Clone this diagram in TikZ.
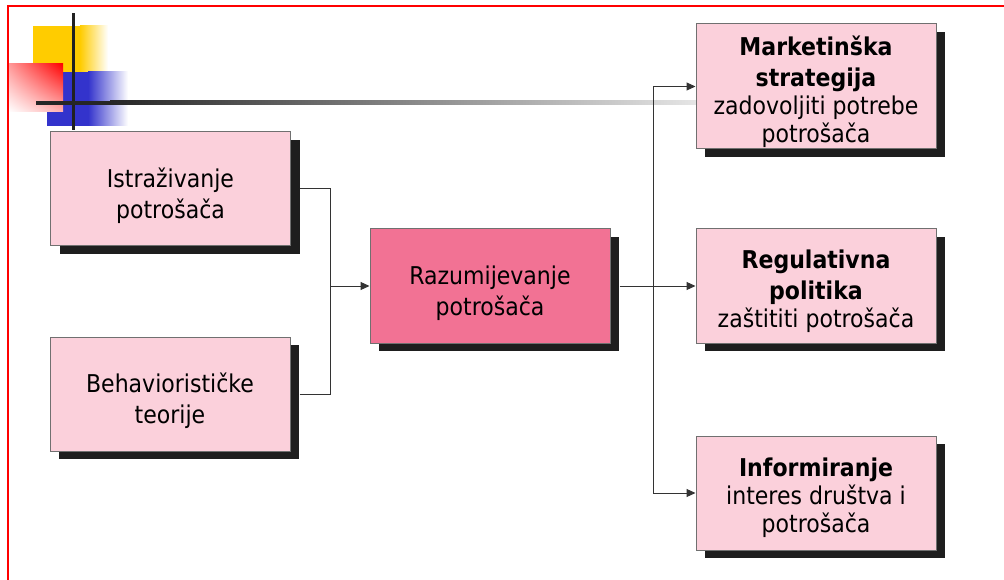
\documentclass[tikz,border=0pt]{standalone}
\usepackage{fontspec}
\setmainfont{DejaVu Sans Condensed}[BoldFont={DejaVu Sans Condensed Bold}]
\usetikzlibrary{arrows.meta,shadows,shadings}
\definecolor{boxpink}{HTML}{FBD0DB}
\definecolor{boxrose}{HTML}{F27294}
\definecolor{boxedge}{HTML}{707070}
\definecolor{shd}{HTML}{1E1E1E}
\definecolor{conn}{HTML}{333333}
\definecolor{decoyellow}{HTML}{FFCC00}
\definecolor{decoblue}{HTML}{3333CC}
\newcommand{\topstrut}[1]{\rule{0pt}{#1}}
\begin{document}
\begin{tikzpicture}[x=1pt,y=-1pt,
  card/.style={draw=boxedge, line width=1pt, fill=boxpink, minimum width=240pt,
    minimum height=114pt, inner sep=0pt, align=center,
    font=\fontsize{24.5}{31}\selectfont,
    drop shadow={shadow xshift=9pt, shadow yshift=-8pt, fill=shd, opacity=1}},
  rcard/.style={card, font=\fontsize{24.5}{28}\selectfont},
  link/.style={draw=conn, line width=1pt},
  arrowlink/.style={link, -{Triangle[length=9pt,width=8pt]}}]
\useasboundingbox (0,0) rectangle (1004,580);
% decoration
\fill[decoyellow] (33,26) rectangle (80,72);
\shade[left color=decoyellow, right color=white] (80,26) rectangle (108,72);
\fill[decoblue] (47,72) rectangle (88,126);
\shade[left color=decoblue, right color=white] (88,72) rectangle (128,126);
\shade[upper right=red, lower left=white, upper left=red!40, lower right=red!30] (9,64) rectangle (63,112);
\fill[black!87] (71.5,13) rectangle (74.5,130);
\fill[black!85] (36,101) rectangle (110,105);
\shade[left color=black!85, right color=black!10] (110,101) rectangle (697,105);
% boxes
\node[card] (b1) at (170.5,189) {\topstrut{33pt}Istraživanje\\potrošača};
\node[card] (b2) at (170,394) {\topstrut{33pt}Behaviorističke\\teorije};
\node[card, fill=boxrose] (c) at (490,286) {\topstrut{33pt}Razumijevanje\\potrošača};
\node[rcard, minimum height=125pt] (m) at (816,86.5) {\topstrut{30pt}\textbf{Marketinška}\\[3pt]\textbf{strategija}\\zadovoljiti potrebe\\potrošača};
\node[rcard] (r) at (816,286) {\topstrut{29pt}\textbf{Regulativna}\\[3pt]\textbf{politika}\\zaštititi potrošača};
\node[rcard] (i) at (816,493) {\topstrut{29pt}\textbf{Informiranje}\\interes društva i\\potrošača};
% connectors
\coordinate (j1) at (330,286);
\coordinate (j2) at (653,286);
\draw[link] ([xshift=9pt]b1.east) -| (j1);
\draw[link] ([xshift=9pt]b2.east) -| (j1);
\draw[arrowlink] (j1) -- (c.west);
\draw[arrowlink] ([xshift=9pt]c.east) -- (r.west);
\draw[arrowlink] (j2) |- (m.west);
\draw[arrowlink] (j2) |- (i.west);
% frame
\draw[red, line width=2pt] (1004,6) -- (8,6) -- (8,580);
\end{tikzpicture}
\end{document}
